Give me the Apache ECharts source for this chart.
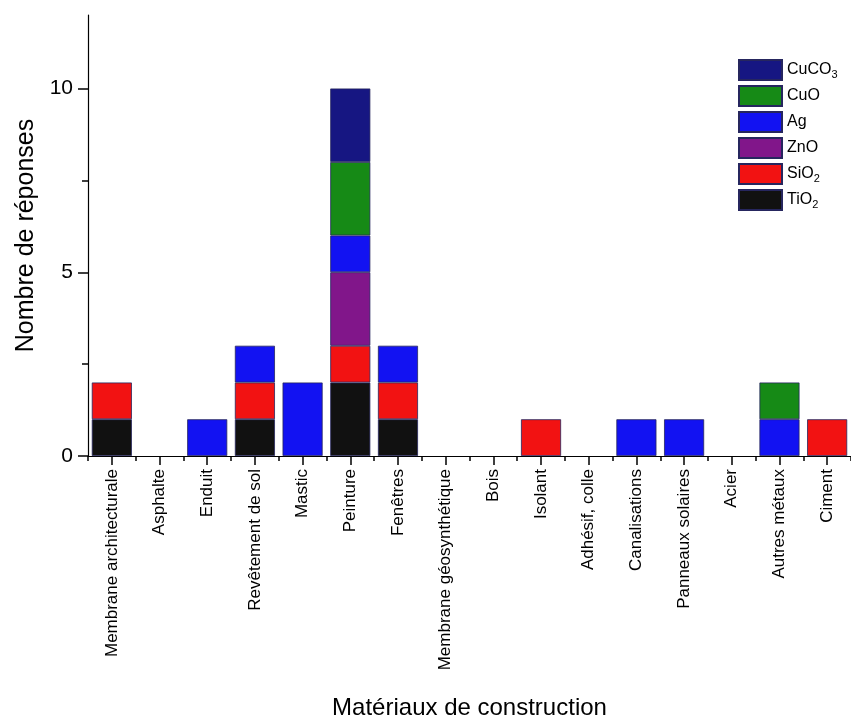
<!DOCTYPE html>
<html>
<head>
<meta charset="utf-8">
<script src="https://cdn.jsdelivr.net/npm/echarts@6/dist/echarts.min.js"></script>
<style>html,body{margin:0;padding:0;background:#fff}#c{width:851px;height:725px}</style>
</head>
<body>
<div id="c"></div>
<script>
const categories = ['Membrane architecturale','Asphalte','Enduit','Revêtement de sol','Mastic','Peinture','Fenêtres','Membrane géosynthétique','Bois','Isolant','Adhésif, colle','Canalisations','Panneaux solaires','Acier','Autres métaux','Ciment'];
const TiO2  = [1,0,0,1,0,2,1,0,0,0,0,0,0,0,0,0];
const SiO2  = [1,0,0,1,0,1,1,0,0,1,0,0,0,0,0,1];
const ZnO   = [0,0,0,0,0,2,0,0,0,0,0,0,0,0,0,0];
const Ag    = [0,0,1,1,2,1,1,0,0,0,0,1,1,0,1,0];
const CuO   = [0,0,0,0,0,2,0,0,0,0,0,0,0,0,1,0];
const CuCO3 = [0,0,0,0,0,2,0,0,0,0,0,0,0,0,0,0];
const yTicks = [0,5,10];
const yMinorTicks = [2.5,7.5];

const FONT = 'Liberation Sans, Arial, sans-serif';
const seriesDefs = [
  {name:'TiO2', data:TiO2, color:'#111111'},
  {name:'SiO2', data:SiO2, color:'#f21212'},
  {name:'ZnO', data:ZnO, color:'#81168a'},
  {name:'Ag', data:Ag, color:'#1212f2'},
  {name:'CuO', data:CuO, color:'#168a16'},
  {name:'CuCO3', data:CuCO3, color:'#161682'}
];
const legendLabel = {
  'CuCO3':'CuCO{s|3}','CuO':'CuO','Ag':'Ag','ZnO':'ZnO','SiO2':'SiO{s|2}','TiO2':'TiO{s|2}'
};
const chart = echarts.init(document.getElementById('c'), null, {renderer:'canvas'});
chart.setOption({
  animation:false,
  backgroundColor:'#fff',
  textStyle:{fontFamily:FONT},
  grid:{left:88, right:-1, top:15, bottom:269, containLabel:false},
  legend:{
    data:['CuCO3','CuO','Ag','ZnO','SiO2','TiO2'],
    orient:'vertical', left:738, top:59, padding:0,
    itemWidth:43, itemHeight:20, itemGap:4,
    icon:'rect',
    formatter:n=>legendLabel[n],
    textStyle:{fontFamily:FONT, fontSize:16, color:'#000', lineHeight:20,
      rich:{s:{fontSize:11, fontFamily:FONT, color:'#000', verticalAlign:'bottom', lineHeight:20, padding:[10,0,0,0]}}}
  },
  xAxis:[{
    type:'category', data:categories,
    name:'Matériaux de construction', nameLocation:'middle', nameGap:240,
    nameTextStyle:{fontSize:24, color:'#000', fontFamily:FONT},
    axisLine:{lineStyle:{color:'#000', width:1.2}},
    axisTick:{show:true, interval:0, alignWithLabel:true, length:9, lineStyle:{color:'#000', width:1.5}},
    axisLabel:{rotate:90, margin:13, fontSize:17, color:'#000', fontFamily:FONT, interval:0}
  },{
    type:'category', data:categories, position:'bottom',
    axisLine:{show:false},
    axisTick:{show:true, interval:0, length:5, lineStyle:{color:'#000', width:1.5}},
    axisLabel:{show:false}
  }],
  yAxis:[{
    type:'value', min:0, max:12,
    name:'Nombre de réponses', nameLocation:'middle', nameGap:47,
    nameTextStyle:{fontSize:25, color:'#000', fontFamily:FONT},
    axisLine:{show:true, lineStyle:{color:'#000', width:1.2}},
    axisTick:{show:true, length:10, customValues:yTicks, lineStyle:{color:'#000', width:1.5}},
    axisLabel:{customValues:yTicks, margin:15, fontSize:21, color:'#000', fontFamily:FONT},
    splitLine:{show:false}
  },{
    type:'value', min:0, max:12, position:'left',
    axisLine:{show:false},
    axisTick:{show:true, length:6, customValues:yMinorTicks, lineStyle:{color:'#000', width:1.5}},
    axisLabel:{show:false},
    splitLine:{show:false}
  }],
  series: seriesDefs.map(s=>({
    name:s.name, type:'bar', stack:'total', xAxisIndex:0, yAxisIndex:0,
    barWidth:'84%',
    data:s.data.map(v=>v===0?null:v),
    itemStyle:{color:s.color, borderColor:'#26265e', borderWidth:0.8}
  }))
});
</script>
</body>
</html>
